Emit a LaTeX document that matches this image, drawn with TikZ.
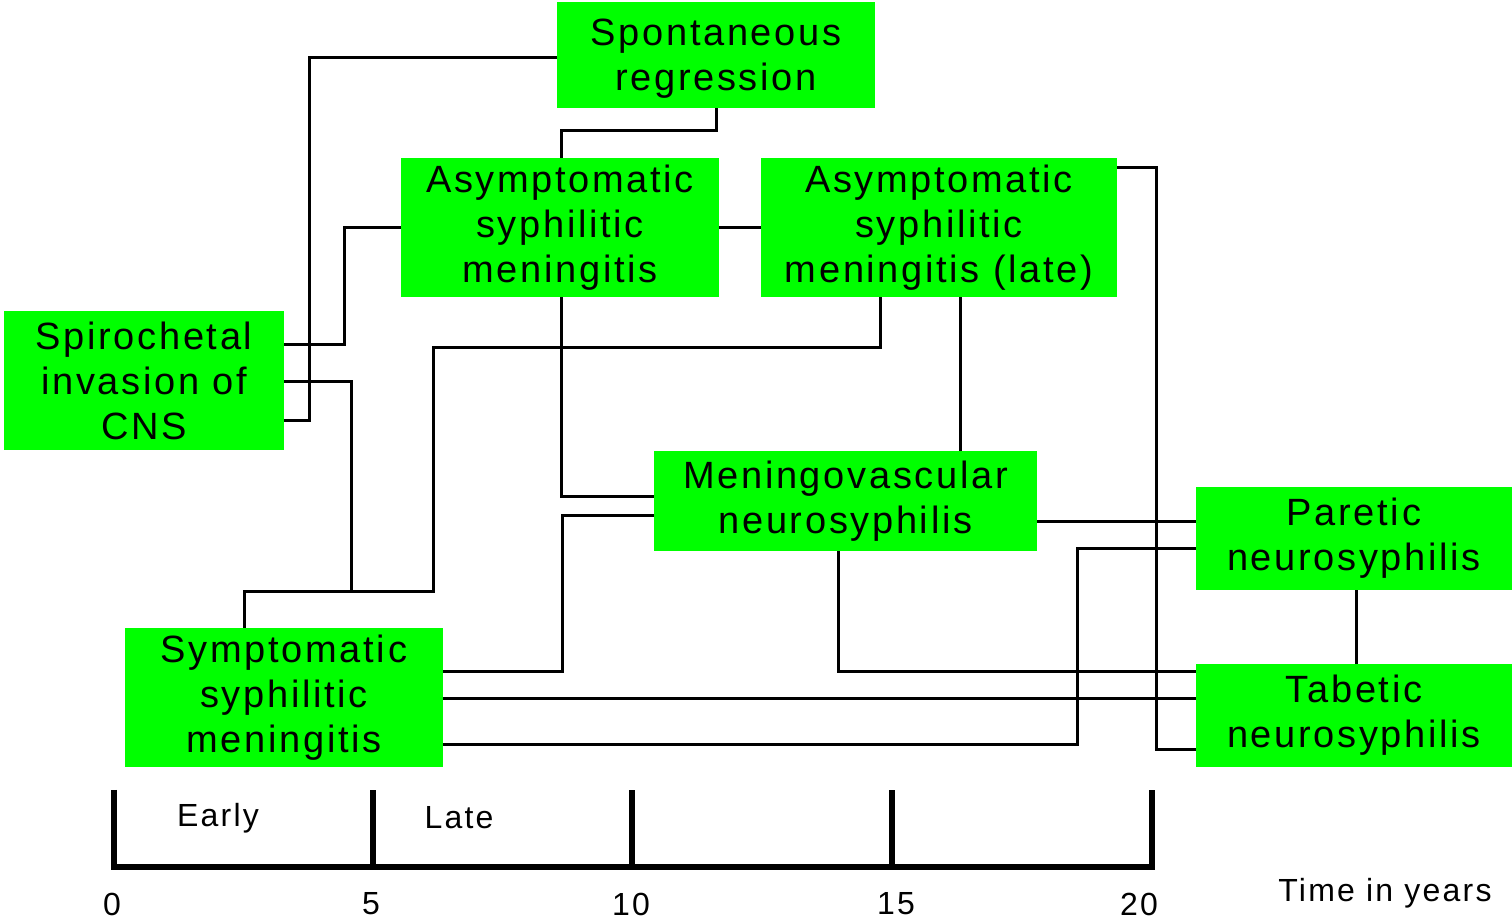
\documentclass[tikz,border=0pt]{standalone}
\usepackage{fontspec}
\setmainfont{Liberation Sans}
\newfontfamily\boxfont{Liberation Sans}[LetterSpace=7]
\definecolor{boxgreen}{RGB}{0,255,0}
\tikzset{
  gbox/.style={fill=boxgreen, draw=none, align=center, inner sep=0pt,
    font=\boxfont\fontsize{19}{22.5}\selectfont},
  conn/.style={line width=1.5pt, black},
  axis/.style={line width=2.6pt, black},
  axlabel/.style={font=\boxfont\fontsize{16}{19}\selectfont, inner sep=0pt}
}
\begin{document}
\begin{tikzpicture}[x=0.5pt,y=-0.5pt]
\useasboundingbox (0,0) rectangle (1512,919);
% boxes
\node[gbox, minimum width=159pt, minimum height=53pt, text depth=0pt] (sr) at (716,55) {Spontaneous\\regression};
\node[gbox, minimum width=159pt, minimum height=69.5pt] (asm) at (560,227.5) {Asymptomatic\\syphilitic\\meningitis};
\node[gbox, minimum width=178pt, minimum height=69.5pt] (asl) at (939,227.5) {Asymptomatic\\syphilitic\\meningitis (late)};
\node[gbox, minimum width=140pt, minimum height=69.5pt] (spi) at (144,380.5) {Spirochetal\\invasion of\\CNS};
\node[gbox, minimum width=191.5pt, minimum height=50pt] (mv) at (845.5,501) {Meningovascular\\neurosyphilis};
\node[gbox, minimum width=158pt, minimum height=51.5pt] (par) at (1354,538.5) {Paretic\\neurosyphilis};
\node[gbox, minimum width=158pt, minimum height=51.5pt] (tab) at (1354,715.5) {Tabetic\\neurosyphilis};
\node[gbox, minimum width=159pt, minimum height=69.5pt] (sym) at (284,697.5) {Symptomatic\\syphilitic\\meningitis};
% connectors
\draw[conn] (sr.west |- 0,58) -| (309,421) -- (spi.east |- 0,421);
\draw[conn] (sr.south) |- (561,131) -- (asm.north -| 561,0);
\draw[conn] (spi.east |- 0,345) -| (asm.west -| 344,0) -- (asm.west);
\draw[conn] (spi.east |- 0,382) -| (351,592);
\draw[conn] (sym.north -| 244,0) |- (433,592) |- (880,348) -- (asl.south -| 880,0);
\draw[conn] (asm.east) -- (asl.west);
\draw[conn] (asm.south -| 561,0) |- (mv.west |- 0,497);
\draw[conn] (asl.south -| 960,0) -- (mv.north -| 960,0);
\draw[conn] (asl.east |- 0,168) -| (1156,750) -- (tab.west |- 0,750);
\draw[conn] (mv.west |- 0,516) -| (562,672) -- (sym.east |- 0,672);
\draw[conn] (mv.east |- 0,522) -- (par.west |- 0,522);
\draw[conn] (mv.south -| 838,0) |- (tab.west |- 0,672);
\draw[conn] (sym.east |- 0,699) -- (tab.west |- 0,699);
\draw[conn] (sym.east |- 0,745) -| (1077,549) -- (par.west |- 0,549);
\draw[conn] (par.south -| 1356,0) -- (tab.north -| 1356,0);
% timeline
\coordinate (t0) at (114,867);
\coordinate (t5) at (373,867);
\coordinate (t10) at (632,867);
\coordinate (t15) at (892,867);
\coordinate (t20) at (1152,867);
\draw[axis] ([yshift=38.5pt]t0) -- (t0) -- (t20) -- ([yshift=38.5pt]t20);
\draw[axis] (t5) -- ([yshift=38.5pt]t5);
\draw[axis] (t10) -- ([yshift=38.5pt]t10);
\draw[axis] (t15) -- ([yshift=38.5pt]t15);
\node[axlabel] (early) at (218,818) {Early};
\node[axlabel] (late) at (459,818) {Late};
\node[axlabel] (n0) at (112,904) {0};
\node[axlabel] (n5) at (371,904) {5};
\node[axlabel] (n10) at (631,904) {10};
\node[axlabel] (n15) at (896,904) {15};
\node[axlabel] (n20) at (1139,904) {20};
\node[axlabel] (tiy) at (1385,893) {Time in years};
\end{tikzpicture}
\end{document}
